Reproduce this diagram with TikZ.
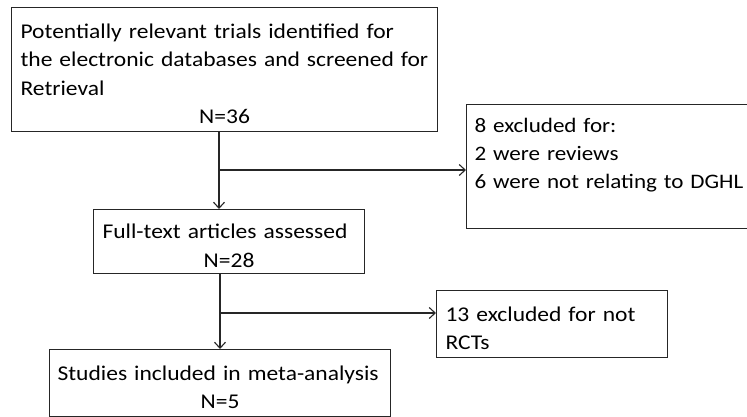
\documentclass[tikz,border=0pt]{standalone}
\usepackage{fontspec}
\setmainfont{Carlito}[FakeStretch=1.12]
\usetikzlibrary{arrows.meta}
\begin{document}
\begin{tikzpicture}[x=1pt, y=-1pt,
      every node/.style={draw=black!85, line width=1.1pt, anchor=north west, inner xsep=9pt, inner ysep=0pt, text height=23pt, align=left, font=\fontsize{21}{28.3}\selectfont},
      link/.style={draw=black!85, line width=1.1pt, -{Straight Barb[length=6pt, width=11pt]}}
    ]
    \useasboundingbox (0,0) rectangle (747,416);
    \clip (0,0) rectangle (747,416);

    \node[text width=408pt, minimum height=124pt] (B1) at (11,7) {\mbox{Potentially relevant trials identified for}\\\mbox{the electronic databases and screened for}\\Retrieval\par{\centering N=36\par}};
    \node[text width=292pt, minimum height=124pt, inner xsep=8pt, text height=16pt, font=\fontsize{20.6}{28.3}\selectfont] (B2) at (466,104) {8 excluded for:\\2 were reviews\\\mbox{6 were not relating to DGHL}\\\mbox{}};
    \node[text width=253pt, minimum height=64pt] (B3) at (93,209) {\mbox{Full-text articles assessed}\par{\centering N=28\par}};
    \node[text width=213pt, minimum height=67pt] (B4) at (436,290) {13 excluded for not\\RCTs};
    \node[text width=325pt, inner xsep=8pt, minimum height=67pt] (B5) at (49,349) {\mbox{Studies included in meta-analysis}\par{\centering N=5\par}};

    \coordinate (S1) at (219,170);
    \coordinate (S2) at (220,313);

    \draw[link] (B1.south -| S1) -- (B3.north -| S1);
    \draw[link] (S1) -- (S1 -| B2.west);
    \draw[link] (B3.south -| S2) -- (B5.north -| S2);
    \draw[link] (S2) -- (S2 -| B4.west);

\end{tikzpicture}
\end{document}
